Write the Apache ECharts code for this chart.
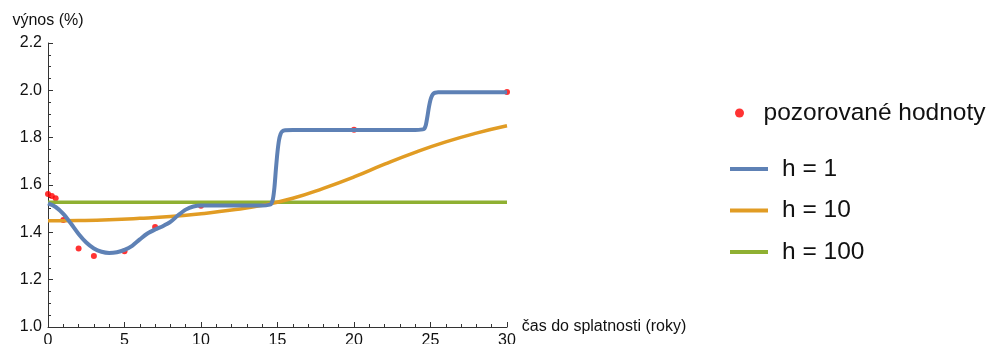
<!DOCTYPE html>
<html><head><meta charset="utf-8">
<script src="https://cdn.jsdelivr.net/npm/echarts@6/dist/echarts.min.js"></script>
<style>html,body{margin:0;padding:0;background:#fff}#c{width:992px;height:344px}</style>
</head><body><div id="c"></div>
<script>
const obsT = [0, 0.25, 0.5, 1, 2, 3, 5, 7, 10, 20, 30];
const obsV = [1.562, 1.553, 1.544, 1.452, 1.332, 1.300, 1.320, 1.423, 1.512, 1.833, 1.993];

const blueT = [0, 0.5, 1, 1.5, 2, 2.5, 3, 3.5, 4, 4.5, 5, 5.5, 6, 6.5, 7, 7.5, 8, 8.5, 9, 9.5, 10, 11, 12, 13, 14, 14.5, 14.6, 14.7, 14.8, 14.9, 15.0, 15.1, 15.2, 15.3, 15.5, 16, 18, 20, 22, 24, 24.5, 24.6, 24.7, 24.8, 24.9, 25.0, 25.1, 25.2, 25.3, 25.5, 26, 28, 30];
const blueV = [1.522, 1.507, 1.478, 1.437, 1.393, 1.357, 1.332, 1.318, 1.313, 1.316, 1.326, 1.343, 1.370, 1.395, 1.412, 1.426, 1.444, 1.472, 1.496, 1.509, 1.513, 1.513, 1.513, 1.513, 1.513, 1.517, 1.522, 1.540, 1.590, 1.670, 1.740, 1.790, 1.815, 1.826, 1.831, 1.832, 1.832, 1.832, 1.832, 1.832, 1.835, 1.838, 1.855, 1.890, 1.930, 1.960, 1.978, 1.987, 1.990, 1.992, 1.992, 1.992, 1.992];

const orangeT = [0, 2, 4, 6, 8, 10, 12, 14, 16, 18, 20, 22, 24, 26, 28, 30];
const orangeV = [1.449, 1.450, 1.453, 1.459, 1.467, 1.479, 1.494, 1.514, 1.544, 1.586, 1.634, 1.688, 1.738, 1.782, 1.819, 1.850];

const greenT = [0, 30];
const greenV = [1.527, 1.527];

const xTicks = [0, 5, 10, 15, 20, 25, 30];
const yTicks = [1.0, 1.2, 1.4, 1.6, 1.8, 2.0, 2.2];

const seriesNames = ['pozorované hodnoty', 'h = 1', 'h = 10', 'h = 100'];

const zip = (a, b) => a.map((t, i) => [t, b[i]]);
const FONT = 'Liberation Sans, Arial, sans-serif';
const axisCol = '#333';

const chart = echarts.init(document.getElementById('c'), null, {renderer: 'canvas'});
chart.setOption({
  animation: false,
  backgroundColor: '#fff',
  grid: {left: 48, right: 485, top: 43, bottom: 17, containLabel: false, outerBoundsMode: 'none'},
  xAxis: {
    type: 'value', min: xTicks[0], max: xTicks[xTicks.length - 1], interval: 5,
    name: 'čas do splatnosti (roky)', nameLocation: 'end', nameGap: 10,
    nameTextStyle: {fontFamily: FONT, fontSize: 16, color: '#111', verticalAlign: 'middle', align: 'left'},
    axisLine: {show: true, lineStyle: {color: axisCol, width: 1}},
    axisTick: {show: true, inside: true, length: 5, lineStyle: {color: axisCol}},
    minorTick: {show: true, splitNumber: 5, length: 3, lineStyle: {color: axisCol}},
    axisLabel: {fontFamily: FONT, fontSize: 16, color: '#111', margin: 6},
    splitLine: {show: false}
  },
  yAxis: {
    type: 'value', min: yTicks[0], max: yTicks[yTicks.length - 1], interval: 0.2,
    name: 'výnos (%)', nameLocation: 'end', nameGap: 22,
    nameTextStyle: {fontFamily: FONT, fontSize: 16, color: '#111', verticalAlign: 'middle', align: 'center'},
    axisLine: {show: true, lineStyle: {color: axisCol, width: 1}},
    axisTick: {show: true, inside: true, length: 5, lineStyle: {color: axisCol}},
    minorTick: {show: true, splitNumber: 4, length: 3, lineStyle: {color: axisCol}},
    axisLabel: {fontFamily: FONT, fontSize: 16, color: '#111', margin: 6, formatter: v => v.toFixed(1)},
    splitLine: {show: false}
  },
  legend: [{
    data: [{name: seriesNames[0], icon: 'circle'}],
    left: 730, top: 94.5, orient: 'vertical', padding: 5,
    itemWidth: 38, itemHeight: 9,
    textStyle: {fontFamily: FONT, fontSize: 24.5, color: '#111', lineHeight: 27}
  }, {
    data: seriesNames.slice(1).map(n => ({name: n, icon: 'rect'})),
    left: 725, top: 150.5, orient: 'vertical', padding: 5,
    itemWidth: 38, itemHeight: 4, itemGap: 14.5,
    textStyle: {fontFamily: FONT, fontSize: 24.5, color: '#111', lineHeight: 27, padding: [0, 0, 0, 9]}
  }],
  series: [{
    name: seriesNames[0], type: 'scatter', data: zip(obsT, obsV),
    symbol: 'circle', symbolSize: 6, itemStyle: {color: '#ff0000'}, z: 1
  }, {
    name: seriesNames[1], type: 'line', data: zip(blueT, blueV), showSymbol: false,
    smooth: 0.3, lineStyle: {color: '#5e81b5', width: 4}, itemStyle: {color: '#5e81b5'}, z: 4
  }, {
    name: seriesNames[2], type: 'line', data: zip(orangeT, orangeV), showSymbol: false,
    smooth: 0.5, lineStyle: {color: '#e19c24', width: 3.5}, itemStyle: {color: '#e19c24'}, z: 3
  }, {
    name: seriesNames[3], type: 'line', data: zip(greenT, greenV), showSymbol: false,
    lineStyle: {color: '#8fb032', width: 3.5}, itemStyle: {color: '#8fb032'}, z: 2
  }]
});
</script></body></html>
